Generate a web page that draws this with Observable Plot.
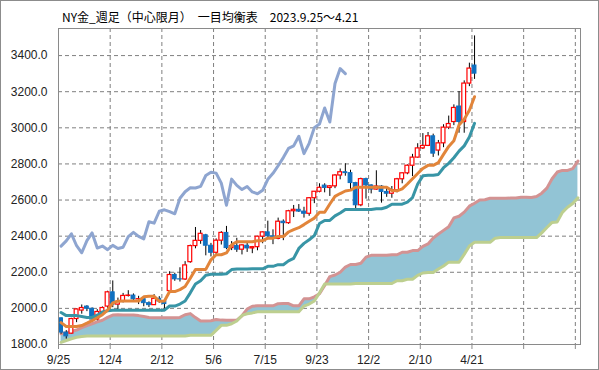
<!DOCTYPE html>
<html><head><meta charset="utf-8">
<script src="https://cdn.jsdelivr.net/npm/d3@7"></script>
<script src="https://cdn.jsdelivr.net/npm/@observablehq/plot@0.6"></script>
<style>
body{margin:0;background:#fff}
#wrap{position:relative;width:599px;height:370px;overflow:hidden;background:#fff}
#chart{position:absolute;left:0;top:0}
#title{position:absolute;left:62px;top:9px;font-family:"Noto Sans CJK JP";font-size:12px;line-height:16px;color:#000;white-space:pre}
#border{position:absolute;left:0;top:0;width:599px;height:370px;box-sizing:border-box;border:1px solid #8c8c8c;pointer-events:none}
</style></head><body>
<div id="wrap"><div id="chart"></div><div id="title">NY金_週足（中心限月）　一目均衡表　2023.9.25～4.21</div><div id="border"></div></div>
<script>
// x tick labels (every 10 weeks)
const xLabels = ["9/25","12/4","2/12","5/6","7/15","9/23","12/2","2/10","4/21"];
// weekly OHLC, 2023/9/25 .. 2025/4/21
const open  = [1945,1866,1860,1941,1988,2010,1998,1938,1980,2010,2089,2021,2036,2069,2071,2050,2051,2029,2018,2053,2038,2096,2185,2161,2160,2256,2345,2374,2405,2347,2308,2375,2418,2334,2345,2325,2347,2332,2339,2397,2421,2399,2385,2480,2472,2538,2546,2536,2524,2610,2646,2680,2667,2676,2736,2754,2749,2694,2571,2716,2681,2658,2675,2645,2635,2654,2715,2748,2790,2835,2886,2900,2953,2874,2914,3001,3032,3118,3032,3245,3345];
const high  = [1947,1877,1945,1997,2019,2015,2003,1993,2008,2095,2152,2057,2083,2098,2080,2067,2062,2036,2076,2065,2044,2203,2195,2225,2259,2350,2448,2431,2410,2360,2385,2425,2454,2370,2388,2352,2369,2343,2399,2423,2483,2435,2500,2490,2543,2570,2575,2560,2614,2647,2690,2690,2680,2740,2772,2801,2765,2698,2721,2721,2684,2762,2680,2670,2675,2720,2750,2795,2853,2912,2968,2974,2965,2930,3017,3065,3127,3201,3260,3358,3509];
const low   = [1857,1830,1858,1921,1968,1982,1936,1931,1977,2001,2004,1983,2030,2063,2034,2021,2009,2005,2016,2028,1984,2090,2150,2146,2155,2250,2330,2355,2291,2285,2297,2351,2325,2320,2310,2296,2310,2303,2319,2358,2393,2353,2380,2375,2466,2503,2531,2500,2510,2580,2640,2640,2620,2663,2712,2732,2654,2541,2563,2605,2634,2655,2583,2615,2610,2640,2690,2740,2730,2832,2880,2896,2836,2844,2890,2990,3012,2970,2970,3228,3268];
const close = [1866,1845,1941,1994,2002,1998,1938,1980,2002,2089,2021,2036,2069,2071,2050,2051,2029,2018,2053,2038,2024,2185,2161,2160,2238,2345,2374,2413,2347,2308,2375,2418,2334,2345,2325,2349,2332,2339,2397,2421,2399,2385,2480,2472,2538,2546,2536,2524,2610,2646,2668,2667,2676,2736,2754,2749,2694,2571,2716,2681,2658,2675,2645,2635,2654,2715,2748,2790,2835,2886,2900,2953,2857,2914,3001,3021,3110,3032,3245,3328,3300];
// 転換線 (conversion line)
const tenkan = [1921,1900,1899,1900,1905,1918,1932,1948,1965,1990,2030,2040,2041,2041,2041,2041,2064,2067,2067,2040,2041,2093,2093,2104,2121,2167,2216,2216,2216,2269,2297,2297,2307,2352,2369,2369,2369,2369,2375,2375,2389,2389,2398,2398,2423,2436,2447,2464,2483,2500,2532,2532,2578,2620,2636,2650,2655,2671,2671,2671,2671,2671,2671,2671,2653,2651,2662,2689,2718,2747,2775,2792,2792,2807,2853,2897,2928,3016,3048,3097,3172];
// 基準線 (base line)
const kijun = [1977,1960,1960,1960,1955,1950,1950,1962,1980,1987,1990,1990,1990,1990,1990,1990,1990,1990,1990,1990,1990,2013,2013,2024,2041,2086,2135,2153,2184,2189,2189,2189,2192,2215,2218,2218,2218,2219,2219,2219,2233,2233,2242,2242,2263,2277,2332,2360,2380,2403,2470,2487,2487,2512,2528,2548,2548,2548,2548,2548,2548,2552,2552,2560,2577,2577,2577,2588,2614,2689,2734,2737,2737,2742,2779,2803,2834,2871,2900,2949,3025];
// 遅行スパン (lagging span)
const chikou = [2345,2374,2413,2347,2308,2375,2418,2334,2345,2325,2349,2332,2339,2397,2421,2399,2385,2480,2472,2538,2546,2536,2524,2610,2646,2668,2667,2676,2736,2754,2749,2694,2571,2716,2681,2658,2675,2645,2635,2654,2715,2748,2790,2835,2886,2900,2953,2857,2914,3001,3021,3110,3032,3245,3328,3300];
// 先行スパン1
const senkouA = [1860,1865,1872,1880,1893,1905,1915,1925,1934,1950,1963,1965,1963,1963,1963,1960,1955,1950,1948,1948,1948,1948,1948,1950,1965,1971,
 1949,1930,1930,1932,1938,1935,1934,1934,1935,1959,1996,2012,2014,2014,2014,2014,2026,2027,2027,2014,2014,2053,2053,2064,2081,
 2127,2176,2185,2200,2229,2243,2243,2250,2284,2294,2294,2294,2294,2297,2297,2311,2311,2320,2320,2343,2357,2390,2412,2432,2452,
 2501,2510,2533,2566,2582,2600,2602,2610,2610,2610,2610,2611,2611,2615,2615,2614,2620,2638,2666,2718,2755,2764,2764,2774,2816];
// 先行スパン2
const senkouB = [1812,1822,1832,1840,1844,1847,1847,1847,1847,1847,1847,1847,1847,1847,1847,1847,1847,1847,1847,1847,1847,1847,1847,1847,1847,
 1851,1851,1851,1851,1851,1878,1906,1906,1915,1930,1961,1970,1975,1981,1981,1981,1981,1981,1981,1981,1981,1981,2013,2024,2041,2086,
 2135,2135,2135,2135,2135,2135,2138,2138,2138,2138,2138,2138,2138,2138,2153,2153,2161,2161,2183,2196,2199,2199,2218,2235,2256,2256,
 2256,2299,2346,2366,2366,2366,2366,2389,2392,2392,2392,2392,2392,2392,2392,2392,2418,2448,2476,2479,2532,2560,2581,2612];

const candles = open.map((o, i) => ({i, o, h: high[i], l: low[i], c: close[i]}));
const up = candles.filter(d => d.c >= d.o);
const down = candles.filter(d => d.c < d.o);
const cloud = senkouA.map((a, i) => ({i, a, b: senkouB[i]}));
const tk = tenkan.map((v, i) => ({i, v}));
const kj = kijun.map((v, i) => ({i, v}));
const ch = chikou.map((v, i) => ({i, v}));
const gridXs = d3.range(0, 10).map(k => k * 10 + 9.5);
const tickXs = d3.range(0, 11).map(k => k * 10 - 0.5);
const yTicks = [1800,2000,2200,2400,2600,2800,3000,3200,3400];
const hw = 0.37;

const chart = Plot.plot({
  width: 599, height: 370,
  marginLeft: 58, marginRight: 19, marginTop: 28, marginBottom: 26,
  style: {fontFamily: "'Liberation Sans', Arial, sans-serif", fontSize: "12px", color: "#222", background: "transparent"},
  x: {type: "linear", domain: [-0.5, 100.5], label: null},
  y: {type: "linear", domain: [1800, 3550], label: null},
  marks: [
    Plot.gridY(yTicks.slice(1), {stroke: "#7f7f7f", strokeOpacity: 1, strokeDasharray: "4,3"}),
    Plot.gridX(gridXs, {stroke: "#7f7f7f", strokeOpacity: 1, strokeDasharray: "4,3"}),
    Plot.areaY(cloud, {x: "i", y1: "b", y2: "a", fill: "#92C4D5"}),
    Plot.line(cloud, {x: "i", y: "a", stroke: "#D39393", strokeWidth: 3}),
    Plot.line(cloud, {x: "i", y: "b", stroke: "#BDCF8F", strokeWidth: 3}),
    Plot.ruleX(candles, {x: "i", y1: "l", y2: "h", stroke: "#000", strokeWidth: 1}),
    Plot.rect(up, {x1: d => d.i - hw, x2: d => d.i + hw, y1: "o", y2: "c", fill: "#fff", stroke: "#ff0000", strokeWidth: 1.2}),
    Plot.rect(down, {x1: d => d.i - hw, x2: d => d.i + hw, y1: "o", y2: "c", fill: "#1070C0", stroke: "#1070C0", strokeWidth: 1}),
    Plot.line(ch, {x: "i", y: "v", stroke: "#8EA5D0", strokeWidth: 3}),
    Plot.line(kj, {x: "i", y: "v", stroke: "#3895A6", strokeWidth: 3}),
    Plot.line(tk, {x: "i", y: "v", stroke: "#E2853A", strokeWidth: 3}),
    Plot.frame({stroke: "#8a8a8a"}),
    Plot.axisY({ticks: yTicks, tickFormat: d => d.toFixed(1), tickSize: 0, tickPadding: 11, label: null}),
    Plot.axisX({ticks: tickXs, tickFormat: d => xLabels[Math.round((d + 0.5) / 10)] ?? "", tickSize: 5, tickPadding: 6, stroke: "#8a8a8a", label: null})
  ]
});
document.getElementById("chart").appendChild(chart);
</script>
</body></html>
